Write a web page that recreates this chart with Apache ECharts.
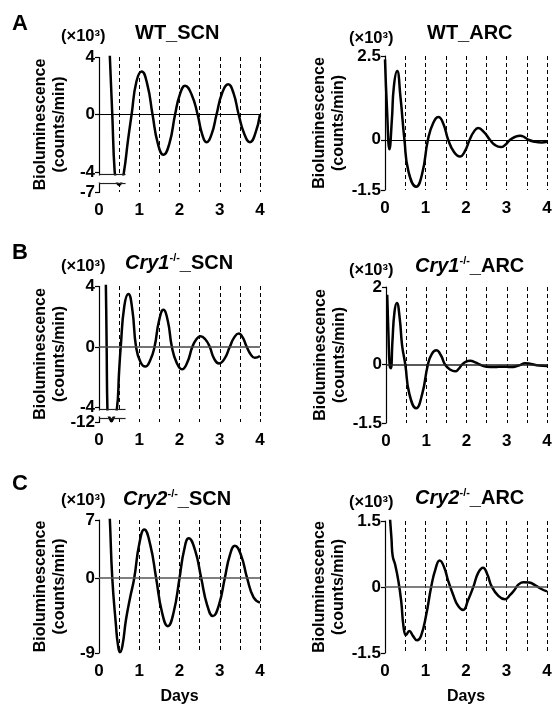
<!DOCTYPE html>
<html lang="en">
<head>
<meta charset="UTF-8">
<title>Bioluminescence rhythms</title>
<script src="https://cdn.jsdelivr.net/npm/echarts@6/dist/echarts.min.js"></script>
<style>
  html, body { margin: 0; padding: 0; background: #fff; }
  #chart { width: 555px; height: 712px; }
</style>
</head>
<body>
<div id="chart"></div>
<script>
// detrended bioluminescence (x10^3 counts/min) vs days

// A  WT_SCN
var wtScnDays = [0.20, 0.27, 0.33, 0.39, 0.44, 0.50, 0.56, 0.62, 0.72, 0.81, 0.93, 1.06, 1.20, 1.33, 1.46, 1.60, 1.75, 1.89, 2.01, 2.14, 2.30, 2.45, 2.56, 2.67, 2.80, 2.92, 3.06, 3.21, 3.34, 3.47, 3.61, 3.75, 3.88, 4.00];
var wtScnVals = [9.0, 4.0, 0.0, -4.0, -6.2, -6.5, -6.2, -4.0, -1.8, 0.0, 2.3, 3.0, 2.1, 0.0, -2.0, -2.8, -2.0, 0.0, 1.4, 2.0, 1.4, 0.0, -1.35, -1.93, -1.35, 0.0, 1.5, 2.1, 1.5, 0.0, -1.35, -1.93, -1.35, 0.0];

// A  WT_ARC
var wtArcDays = [0.00, 0.05, 0.11, 0.17, 0.22, 0.30, 0.38, 0.48, 0.58, 0.77, 0.92, 1.06, 1.19, 1.32, 1.44, 1.56, 1.70, 1.85, 1.97, 2.09, 2.20, 2.30, 2.45, 2.59, 2.72, 2.86, 2.98, 3.09, 3.22, 3.34, 3.44, 3.54, 3.70, 3.87, 4.00];
var wtArcVals = [2.4, 0.9, -0.28, 0.6, 1.6, 2.05, 1.3, 0.0, -0.95, -1.4, -1.0, 0.0, 0.5, 0.68, 0.48, 0.0, -0.36, -0.5, -0.35, 0.0, 0.25, 0.35, 0.22, 0.0, -0.16, -0.22, -0.14, 0.0, 0.09, 0.12, 0.08, 0.0, -0.06, -0.08, -0.06];

// B  Cry1-/-_SCN
var cry1ScnDays = [0.12, 0.17, 0.19, 0.21, 0.26, 0.31, 0.36, 0.44, 0.50, 0.54, 0.63, 0.73, 0.83, 0.92, 1.03, 1.15, 1.27, 1.38, 1.49, 1.60, 1.71, 1.81, 1.93, 2.06, 2.19, 2.32, 2.42, 2.52, 2.64, 2.75, 2.86, 2.98, 3.12, 3.25, 3.36, 3.47, 3.57, 3.67, 3.77, 3.87, 4.00];
var cry1ScnVals = [12, 4.2, 0.0, -4.2, -11.7, -11.95, -11.7, -4.2, -1.6, 0.0, 2.7, 3.48, 2.4, 0.0, -1.0, -1.3, -0.9, 0.0, 1.7, 2.43, 1.7, 0.0, -1.05, -1.48, -1.05, 0.0, 0.5, 0.7, 0.5, 0.0, -0.78, -1.1, -0.78, 0.0, 0.62, 0.87, 0.62, 0.0, -0.5, -0.72, -0.6];

// B  Cry1-/-_ARC
var cry1ArcDays = [0.03, 0.06, 0.09, 0.12, 0.16, 0.21, 0.27, 0.34, 0.40, 0.48, 0.58, 0.75, 0.90, 1.04, 1.14, 1.25, 1.36, 1.47, 1.60, 1.72, 1.81, 1.89, 1.99, 2.09, 2.22, 2.34, 2.50, 2.70, 2.90, 3.10, 3.30, 3.46, 3.60, 3.80, 4.00];
var cry1ArcVals = [1.8, 0.8, 0.0, -0.09, 0.6, 1.35, 1.59, 1.2, 0.5, 0.0, -0.75, -1.12, -0.75, 0.0, 0.28, 0.37, 0.25, 0.0, -0.13, -0.17, -0.1, 0.0, 0.08, 0.1, 0.06, 0.0, -0.05, -0.06, -0.05, -0.06, -0.02, 0.04, 0.02, -0.02, -0.03];

// C  Cry2-/-_SCN
var cry2ScnDays = [0.20, 0.27, 0.33, 0.42, 0.47, 0.52, 0.58, 0.67, 0.77, 0.875, 1.00, 1.125, 1.27, 1.42, 1.565, 1.71, 1.855, 2.00, 2.115, 2.23, 2.385, 2.54, 2.685, 2.83, 2.98, 3.125, 3.25, 3.375, 3.53, 3.68, 3.84, 4.00];
var cry2ScnVals = [14, 7.0, 0.0, -5.6, -8.0, -8.9, -8.2, -5.0, -2.4, 0.0, 4.1, 5.85, 4.1, 0.0, -4.1, -5.77, -4.1, 0.0, 3.4, 4.8, 3.4, 0.0, -3.2, -4.56, -3.2, 0.0, 2.75, 3.9, 2.75, 0.0, -2.3, -2.94];

// C  Cry2-/-_ARC
var cry2ArcDays = [0.12, 0.16, 0.19, 0.25, 0.33, 0.40, 0.46, 0.52, 0.60, 0.69, 0.79, 0.89, 1.02, 1.14, 1.25, 1.35, 1.46, 1.56, 1.68, 1.80, 1.93, 2.05, 2.18, 2.30, 2.42, 2.53, 2.63, 2.80, 2.96, 3.09, 3.21, 3.30, 3.42, 3.56, 3.71, 3.85, 4.00];
var cry2ArcVals = [1.6, 1.1, 0.7, 0.51, 0.14, -0.32, -0.92, -1.09, -1.0, -1.11, -1.21, -1.11, -0.62, 0.0, 0.42, 0.6, 0.45, 0.14, -0.17, -0.42, -0.52, -0.3, 0.0, 0.32, 0.44, 0.28, 0.02, -0.2, -0.28, -0.18, -0.05, 0.06, 0.11, 0.1, 0.04, -0.04, -0.1];

// axis tick labels (lowTicks: label under the axis break)
var xTicks = [0, 1, 2, 3, 4];
var wtScnTicks = [4, 0, -4];
var wtScnLowTicks = [-7];
var wtArcTicks = [2.5, 0, -1.5];
var cry1ScnTicks = [4, 0, -4];
var cry1ScnLowTicks = [-12];
var cry1ArcTicks = [2, 0, -1.5];
var cry2ScnTicks = [7, 0, -9];
var cry2ArcTicks = [1.5, 0, -1.5];

var FONT = "'Liberation Sans', Arial, Helvetica, sans-serif";

function zip(days, vals) {
    return days.map(function(d, i) { return [d, vals[i]]; });
}

// one entry per panel: layout + which arrays to use
var panels = [
    { grid: { left: 99, top: 57, width: 161, height: 135 }, days: wtScnDays, vals: wtScnVals, ticks: wtScnTicks, low: wtScnLowTicks, min: -7, max: 4, gap: 30,
      brk: { start: -6.3, end: -4.2, gap: '5.2%' }, zero: '#000' },
    { grid: { left: 385, top: 56, width: 162, height: 134 }, days: wtArcDays, vals: wtArcVals, ticks: wtArcTicks, min: -1.5, max: 2.5, gap: 37, zero: '#000' },
    { grid: { left: 99, top: 286, width: 161, height: 136 }, days: cry1ScnDays, vals: cry1ScnVals, ticks: cry1ScnTicks, low: cry1ScnLowTicks, min: -12, max: 4, gap: 30,
      brk: { start: -11.65, end: -4.2, gap: '4.4%' }, zero: '#444' },
    { grid: { left: 386, top: 287, width: 161, height: 136 }, days: cry1ArcDays, vals: cry1ArcVals, ticks: cry1ArcTicks, min: -1.5, max: 2, gap: 37, zero: '#222' },
    { grid: { left: 99, top: 520, width: 161, height: 133 }, days: cry2ScnDays, vals: cry2ScnVals, ticks: cry2ScnTicks, min: -9, max: 7, gap: 30, days_name: true, zero: '#555' },
    { grid: { left: 385, top: 521, width: 162, height: 132 }, days: cry2ArcDays, vals: cry2ArcVals, ticks: cry2ArcTicks, min: -1.5, max: 1.5, gap: 37, days_name: true, zero: '#555' }
];

var grids = [], xAxes = [], yAxes = [], series = [];

var labelStyle = { color: '#000', fontFamily: FONT, fontWeight: 'bold', fontSize: 17 };

panels.forEach(function(p, i) {
    grids.push(p.grid);

    xAxes.push({
        gridIndex: i,
        type: 'value',
        min: 0,
        max: 4,
        interval: 0.5,
        axisLine: { show: false },
        axisTick: { show: false },
        axisLabel: Object.assign({ customValues: xTicks, margin: 10 }, labelStyle),
        splitLine: { show: true, lineStyle: { color: '#000', width: 1, type: [4, 3] } },
        name: p.days_name ? 'Days' : '',
        nameLocation: 'middle',
        nameGap: 36,
        nameTextStyle: { color: '#000', fontFamily: FONT, fontWeight: 'bold', fontSize: 16 }
    });

    var y = {
        gridIndex: i,
        type: 'value',
        min: p.min,
        max: p.max,
        axisLine: { show: true, lineStyle: { color: '#000', width: 1.2 } },
        axisTick: { show: true, customValues: p.ticks, length: 4, lineStyle: { color: '#000', width: 1.2 } },
        axisLabel: Object.assign({ customValues: p.ticks, hideOverlap: false, margin: 4 }, labelStyle),
        splitLine: { show: false },
        name: 'Bioluminescence\n(counts/min)',
        nameLocation: 'middle',
        nameRotate: 90,
        nameGap: p.gap,
        nameTextStyle: { color: '#000', fontFamily: FONT, fontWeight: 'bold', fontSize: 16, lineHeight: 19 }
    };
    if (p.brk) {
        y.breaks = [p.brk];
        y.breakArea = {
            show: true,
            expandOnClick: false,
            zigzagAmplitude: 0,
            itemStyle: { color: '#fff', borderColor: 'rgba(0,0,0,0)', borderWidth: 0, opacity: 1 }
        };
        y.breakLabelLayout = { moveOverlap: false };
    }
    yAxes.push(y);

    var marks = [{ yAxis: 0, lineStyle: { color: p.zero, width: p.zero === '#000' ? 1 : 1.5 } }];
    if (p.brk) {
        // short break marks next to the axis
        marks.push([{ coord: [0, p.brk.end + 0.08] }, { coord: [0.66, p.brk.end + 0.08] }]);
        marks.push([{ coord: [0, p.brk.start - 0.08] }, { coord: [0.66, p.brk.start - 0.08] }]);
    }

    series.push({
        type: 'line',
        xAxisIndex: i,
        yAxisIndex: i,
        data: zip(p.days, p.vals),
        smooth: 0.5,
        showSymbol: false,
        clip: true,
        lineStyle: { color: '#000', width: 2.5 },
        markLine: {
            silent: true,
            symbol: 'none',
            label: { show: false },
            lineStyle: { color: '#222', width: 1.2, type: 'solid' },
            data: marks
        }
    });
});

// second left axis on the broken panels, carrying only the label below the break
panels.forEach(function(p, i) {
    if (!p.low) return;
    yAxes.push({
        gridIndex: i,
        type: 'value',
        min: p.min,
        max: p.max,
        position: 'left',
        axisLine: { show: false },
        axisTick: { show: true, customValues: p.low, length: 4, lineStyle: { color: '#000', width: 1.2 } },
        axisLabel: Object.assign({ customValues: p.low, margin: 4 }, labelStyle),
        splitLine: { show: false }
    });
});

// titles, panel letters and the (x10^3) unit labels
var bold = { color: '#000', fontFamily: FONT, fontWeight: 'bold' };
function txt(extra) {
    return Object.assign({}, bold, extra);
}
var richStyle = {
    i: txt({ fontSize: 20, fontStyle: 'italic', lineHeight: 22 }),
    s: txt({ fontSize: 11, verticalAlign: 'top', lineHeight: 12 }),
    n: txt({ fontSize: 20, lineHeight: 22 })
};
function title(text, left, top, size, rich) {
    return {
        text: text,
        left: left,
        top: top,
        padding: 0,
        textStyle: txt({ fontSize: size, lineHeight: size + 2, rich: rich ? richStyle : undefined })
    };
}

var titles = [
    title('A', 12, 12, 22),
    title('B', 12, 241, 22),
    title('C', 12, 472, 22),
    title('(×10³)', 61, 27, 16.5),
    title('(×10³)', 349, 29, 16.5),
    title('(×10³)', 61, 257, 16.5),
    title('(×10³)', 349, 261, 16.5),
    title('(×10³)', 61, 491, 16.5),
    title('(×10³)', 349, 493, 16.5),
    title('{n|WT_SCN}', 135, 22, 20, true),
    title('{n|WT_ARC}', 427, 22, 20, true),
    title('{i|Cry1}{s|-/-}{n|_SCN}', 125, 252, 20, true),
    title('{i|Cry1}{s|-/-}{n|_ARC}', 415, 255, 20, true),
    title('{i|Cry2}{s|-/-}{n|_SCN}', 123, 488, 20, true),
    title('{i|Cry2}{s|-/-}{n|_ARC}', 415, 487, 20, true)
];

var chart = echarts.init(document.getElementById('chart'));
chart.setOption({
    animation: false,
    backgroundColor: '#fff',
    title: titles,
    grid: grids,
    xAxis: xAxes,
    yAxis: yAxes,
    series: series
});
</script>
</body>
</html>
